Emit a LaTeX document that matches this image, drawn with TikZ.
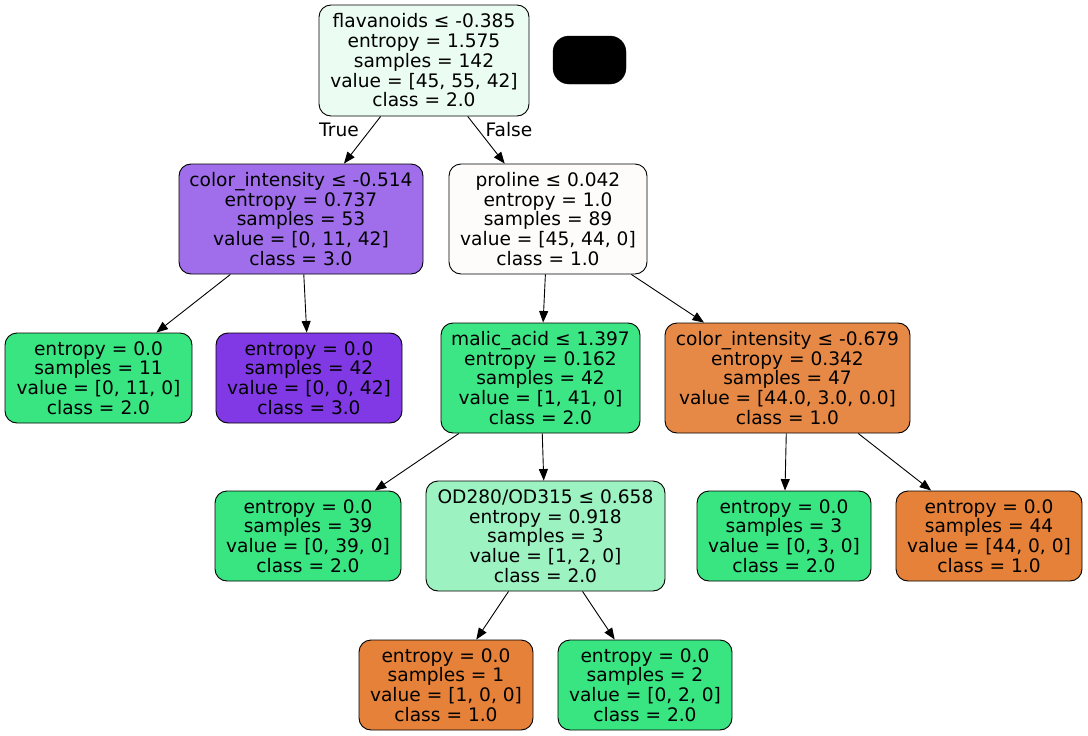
\documentclass[tikz,border=0pt]{standalone}
\usepackage{fontspec}
\setmainfont{DejaVu Sans}
\usetikzlibrary{arrows.meta}
\definecolor{cRoot}{HTML}{EBFCF2}
\definecolor{cPurpLight}{HTML}{A06EEB}
\definecolor{cWhite}{HTML}{FEFCFB}
\definecolor{cGreen}{HTML}{39E581}
\definecolor{cGreenB}{HTML}{3DE684}
\definecolor{cPurple}{HTML}{8139E5}
\definecolor{cOrangeB}{HTML}{E78946}
\definecolor{cOrange}{HTML}{E58139}
\definecolor{cGreenLight}{HTML}{9CF2C0}
\tikzset{
  tn/.style={draw=black, line width=0.9pt, rounded corners=12pt, align=center,
    font=\fontsize{18.6}{19.75}\selectfont, inner sep=0pt},
  edge/.style={line width=0.9pt, -{Triangle[length=11.5pt,width=9pt]}},
  lbl/.style={font=\fontsize{18.6}{20}\selectfont, inner sep=0pt}
}
\begin{document}
\begin{tikzpicture}[x=1pt,y=-1pt]
\useasboundingbox (0,0) rectangle (1088,736);
\node[tn, fill=cRoot, minimum width=210pt, minimum height=111pt] (root) at (424,60.5)
  {flavanoids ≤ -0.385\\entropy = 1.575\\samples = 142\\value = [45, 55, 42]\\class = 2.0};
\node[draw=black, fill=black, rounded corners=16pt, minimum width=73pt, minimum height=48pt, inner sep=0pt] (blk) at (589.5,60) {};
\node[tn, fill=cPurpLight, minimum width=244pt, minimum height=110pt] (ci1) at (301,219)
  {color\_intensity ≤ -0.514\\entropy = 0.737\\samples = 53\\value = [0, 11, 42]\\class = 3.0};
\node[tn, fill=cWhite, minimum width=198pt, minimum height=110pt] (pro) at (548,219)
  {proline ≤ 0.042\\entropy = 1.0\\samples = 89\\value = [45, 44, 0]\\class = 1.0};
\node[tn, fill=cGreen, minimum width=187pt, minimum height=90pt] (l11) at (98.5,378)
  {entropy = 0.0\\samples = 11\\value = [0, 11, 0]\\class = 2.0};
\node[tn, fill=cPurple, minimum width=186pt, minimum height=90pt] (l42) at (309,378)
  {entropy = 0.0\\samples = 42\\value = [0, 0, 42]\\class = 3.0};
\node[tn, fill=cGreenB, minimum width=199pt, minimum height=110pt] (mal) at (540.5,378)
  {malic\_acid ≤ 1.397\\entropy = 0.162\\samples = 42\\value = [1, 41, 0]\\class = 2.0};
\node[tn, fill=cOrangeB, minimum width=245pt, minimum height=110pt] (ci2) at (787.5,378)
  {color\_intensity ≤ -0.679\\entropy = 0.342\\samples = 47\\value = [44.0, 3.0, 0.0]\\class = 1.0};
\node[tn, fill=cGreen, minimum width=186pt, minimum height=90pt] (l39) at (308,536)
  {entropy = 0.0\\samples = 39\\value = [0, 39, 0]\\class = 2.0};
\node[tn, fill=cGreenLight, minimum width=239pt, minimum height=110pt] (od) at (545.5,536)
  {OD280/OD315 ≤ 0.658\\entropy = 0.918\\samples = 3\\value = [1, 2, 0]\\class = 2.0};
\node[tn, fill=cGreen, minimum width=174pt, minimum height=90pt] (l3) at (784,536)
  {entropy = 0.0\\samples = 3\\value = [0, 3, 0]\\class = 2.0};
\node[tn, fill=cOrange, minimum width=186pt, minimum height=90pt] (l44) at (989,536)
  {entropy = 0.0\\samples = 44\\value = [44, 0, 0]\\class = 1.0};
\node[tn, fill=cOrange, minimum width=174pt, minimum height=90pt] (l1) at (446,685)
  {entropy = 0.0\\samples = 1\\value = [1, 0, 0]\\class = 1.0};
\node[tn, fill=cGreen, minimum width=174pt, minimum height=90pt] (l2) at (645,685)
  {entropy = 0.0\\samples = 2\\value = [0, 2, 0]\\class = 2.0};
\draw[edge] (root) -- (ci1);
\draw[edge] (root) -- (pro);
\draw[edge] (ci1) -- (l11);
\draw[edge] (ci1) -- (l42);
\draw[edge] (pro) -- (mal);
\draw[edge] (pro) -- (ci2);
\draw[edge] (mal) -- (l39);
\draw[edge] (mal) -- (od);
\draw[edge] (ci2) -- (l3);
\draw[edge] (ci2) -- (l44);
\draw[edge] (od) -- (l1);
\draw[edge] (od) -- (l2);
\node[lbl] (tlab) at (339,130) {True};
\node[lbl] (flab) at (509,130) {False};
\end{tikzpicture}
\end{document}
